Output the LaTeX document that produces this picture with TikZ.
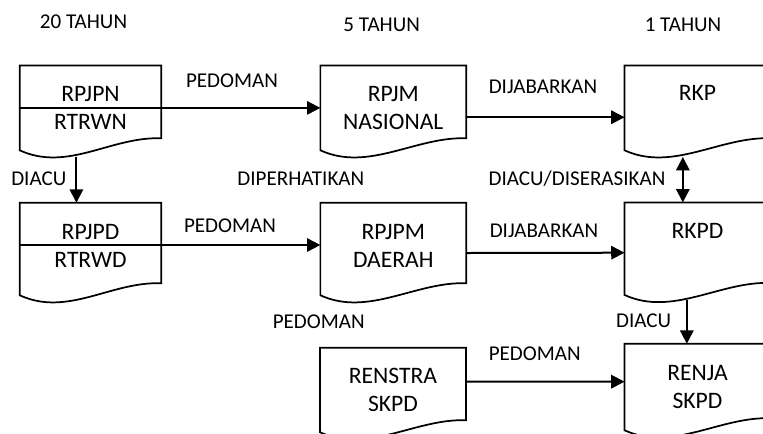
\documentclass[tikz,border=0pt]{standalone}
\usepackage{fontspec}
\setmainfont{Carlito}
\usetikzlibrary{arrows.meta}
\newcommand{\boxfont}{\fontsize{17.7}{21}\selectfont}
\newcommand{\lblfont}{\fontsize{15.8}{18}\selectfont}
\tikzset{
	docbox/.style={inner sep=0pt, align=center, font=\boxfont},
	docline/.style={line width=1.3pt},
	lbl/.style={font=\lblfont, inner sep=0pt},
	arr/.style={line width=1.5pt, -{Triangle[length=10pt,width=10pt]}},
	arrboth/.style={line width=1.5pt, {Triangle[length=10pt,width=10pt]}-{Triangle[length=10pt,width=10pt]}},
}
% outline of a document box round a node
\newcommand{\docshape}[1]{%
	\draw[docline] (#1.north west) -- (#1.north east) -- ([yshift=9pt]#1.south east)
		.. controls +(-50,-2) and +(48,22) .. (#1.south west) -- cycle;}
\begin{document}
\begin{tikzpicture}[x=0.75pt, y=-0.75pt]
		\useasboundingbox (0,0) rectangle (763,433);
		\clip (0,0) rectangle (763,433);
		% columns
		\node[lbl] (t20) at (83.5,21.7) {20 TAHUN};
		\node[lbl] (t5) at (381.7,25) {5 TAHUN};
		\node[lbl] (t1) at (683,25) {1 TAHUN};
		% boxes
		\node[docbox, minimum width=105.75pt, minimum height=63.2pt] (rpjpn) at (90.5,107.9) {RPJPN\\RTRWN};
		\node[docbox, minimum width=109pt, minimum height=63.2pt] (rpjm) at (393.3,107.9) {RPJM\\NASIONAL};
		\node[docbox, minimum width=109pt, minimum height=63.2pt, text depth=22.4pt] (rkp) at (697.5,107.9) {RKP};
		\node[docbox, minimum width=105.75pt, minimum height=69pt, text depth=4.5pt] (rpjpd) at (90.5,249) {RPJPD\\RTRWD};
		\node[docbox, minimum width=109pt, minimum height=69pt, text depth=4.5pt] (rpjpm) at (393.3,249) {RPJPM\\DAERAH};
		\node[docbox, minimum width=109pt, minimum height=69pt, text depth=27.3pt] (rkpd) at (697.5,248.7) {RKPD};
		\node[docbox, minimum width=109pt, minimum height=63pt] (renstra) at (393,390) {RENSTRA\\SKPD};
		\node[docbox, minimum width=109pt, minimum height=64.5pt] (renja) at (697.5,387) {RENJA\\SKPD};
		\foreach \n in {rpjpn,rpjm,rkp,rpjpd,rpjpm,rkpd,renstra,renja}
			\docshape{\n};
		\draw[docline] (rpjpn.west) -- (rpjpn.east);
		\draw[docline] ([yshift=3pt]rpjpd.west) -- ([yshift=3pt]rpjpd.east);
		% connectors
		\draw[arr] (rpjpn.east) -- (rpjm.west);
		\draw[arr] ([yshift=-7pt]rpjm.east) -- ([yshift=-7pt]rkp.west);
		\draw[arr] ([yshift=3pt]rpjpd.east) -- ([yshift=3pt]rpjpm.west);
		\draw[arr] ([yshift=-3pt]rpjpm.east) -- ([yshift=-3pt]rkpd.west);
		\draw[arr] ([yshift=6.2pt]renstra.east) -- ([yshift=4pt]renja.west);
		\draw[arr] ([xshift=42.5pt,yshift=-5pt]rpjpn.south west) -- ([xshift=42.5pt]rpjpd.north west);
		\draw[arrboth] ([xshift=43.7pt,yshift=-5pt]rkp.south west) -- ([xshift=43.7pt]rkpd.north west);
		\draw[arr] ([xshift=46.7pt,yshift=-4pt]rkpd.south west) -- ([xshift=46.7pt]renja.north west);
		% labels
		\node[lbl] (ped1) at (232,80.8) {PEDOMAN};
		\node[lbl] (dij1) at (543,87) {DIJABARKAN};
		\node[lbl] (diacu1) at (38.8,179) {DIACU};
		\node[lbl] (diper) at (300.8,178.8) {DIPERHATIKAN};
		\node[lbl] (diser) at (577,178.8) {DIACU/DISERASIKAN};
		\node[lbl] (ped2) at (230,226) {PEDOMAN};
		\node[lbl] (dij2) at (544,230.5) {DIJABARKAN};
		\node[lbl] (ped3) at (318.7,321.3) {PEDOMAN};
		\node[lbl] (diacu2) at (643.7,321) {DIACU};
		\node[lbl] (ped4) at (534.7,353.8) {PEDOMAN};
	\end{tikzpicture}
\end{document}
